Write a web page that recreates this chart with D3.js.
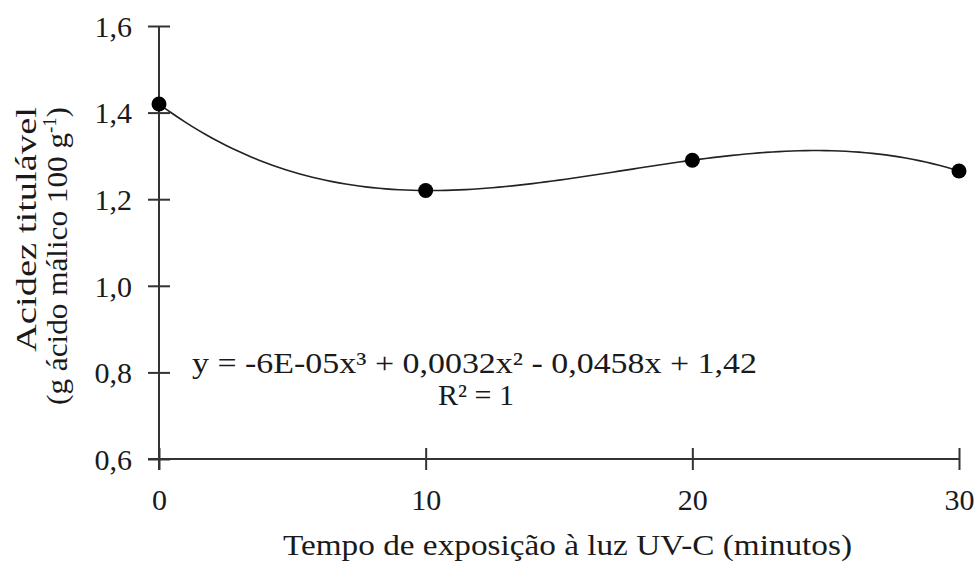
<!DOCTYPE html>
<html>
<head>
<meta charset="utf-8">
<script src="https://cdn.jsdelivr.net/npm/d3@7"></script>
<style>
  body { margin: 0; background: #fff; }
  svg text { font-family: "Liberation Serif", "Times New Roman", serif; fill: #1a1a1a; }
</style>
</head>
<body>
<div id="chart"></div>
<script>
// observed data
var minutes = [0, 10, 20, 30];
var acidity = [1.42, 1.22, 1.29, 1.265];
var xTicks = [0, 10, 20, 30];
var yTicks = [0.6, 0.8, 1.0, 1.2, 1.4, 1.6];
var equationText = "y = -6E-05x\u00B3 + 0,0032x\u00B2 - 0,0458x + 1,42";
var r2Text = "R\u00B2 = 1";

var width = 979, height = 563;
var margin = {top: 26, right: 20, bottom: 104, left: 159};
var w = width - margin.left - margin.right,
    h = height - margin.top - margin.bottom;

var svg = d3.select("#chart").append("svg")
    .attr("width", width)
    .attr("height", height);
var g = svg.append("g")
    .attr("transform", "translate(" + margin.left + "," + margin.top + ")");

var xScale = d3.scaleLinear().domain([0, 30]).range([0, w]);
var yScale = d3.scaleLinear().domain([0.6, 1.6]).range([h, 0]);

var fmt = function(d) { return d3.format(".1f")(d).replace(".", ","); };
var axisColor = "#333";
var fontSize = "30px";

// x axis (ticks crossing the line)
var xAxis = g.append("g")
    .attr("transform", "translate(0," + h + ")")
    .call(d3.axisBottom(xScale).tickValues(xTicks).tickSize(0).tickFormat(d3.format("d")));
xAxis.select("path.domain").remove();
xAxis.append("line").attr("x1", -11).attr("x2", w).attr("y1", 0).attr("y2", 0);
xAxis.selectAll(".tick").append("line").attr("y1", -11).attr("y2", 11);
xAxis.selectAll(".tick text").attr("y", 0).attr("dy", "51px").style("font-size", fontSize);

// y axis
var yAxis = g.append("g")
    .call(d3.axisLeft(yScale).tickValues(yTicks).tickSize(0).tickFormat(fmt));
yAxis.select("path.domain").remove();
yAxis.append("line").attr("x1", 0).attr("x2", 0).attr("y1", 0).attr("y2", h + 11);
yAxis.selectAll(".tick").append("line").attr("x1", -11).attr("x2", 11);
yAxis.selectAll(".tick text").attr("x", -27).attr("dy", "0.34em").style("font-size", fontSize);

svg.selectAll("g line")
    .attr("stroke", axisColor)
    .attr("stroke-width", 2);

// fitted cubic (through the four observed points, R^2 = 1)
function cubic(x) {
  var s = 0;
  for (var i = 0; i < minutes.length; i++) {
    var t = acidity[i];
    for (var j = 0; j < minutes.length; j++) {
      if (j !== i) t *= (x - minutes[j]) / (minutes[i] - minutes[j]);
    }
    s += t;
  }
  return s;
}
var curveX = d3.range(0, 30.01, 0.25);
var valueline = d3.line()
    .x(function(d) { return xScale(d); })
    .y(function(d) { return yScale(cubic(d)); });

g.append("path")
    .datum(curveX)
    .attr("fill", "none")
    .attr("stroke", "#222")
    .attr("stroke-width", 1.6)
    .attr("d", valueline);

g.selectAll("circle")
    .data(minutes)
    .enter()
    .append("circle")
    .attr("cx", function(d) { return xScale(d); })
    .attr("cy", function(d, i) { return yScale(acidity[i]); })
    .attr("r", 7.5)
    .attr("fill", "#000");

// equation
svg.append("text")
    .attr("x", 192).attr("y", 373)
    .attr("textLength", 565)
    .attr("lengthAdjust", "spacingAndGlyphs")
    .style("font-size", fontSize)
    .text(equationText);
svg.append("text")
    .attr("x", 476).attr("y", 405)
    .attr("text-anchor", "middle")
    .style("font-size", fontSize)
    .text(r2Text);

// axis titles
svg.append("text")
    .attr("x", 283).attr("y", 555)
    .attr("textLength", 569)
    .attr("lengthAdjust", "spacingAndGlyphs")
    .style("font-size", fontSize)
    .text("Tempo de exposição à luz UV-C  (minutos)");

svg.append("text")
    .attr("transform", "translate(36,352) rotate(-90)")
    .attr("textLength", 245)
    .attr("lengthAdjust", "spacingAndGlyphs")
    .style("font-size", fontSize)
    .text("Acidez titulável");

var yt2 = svg.append("text")
    .attr("transform", "translate(67,405) rotate(-90)")
    .style("font-size", fontSize);
yt2.append("tspan").attr("textLength", 272).attr("lengthAdjust", "spacingAndGlyphs")
    .text("(g ácido málico 100 g");
yt2.append("tspan").attr("dy", -11).style("font-size", "19px").text("-1");
yt2.append("tspan").attr("dy", 11).text(")");
</script>
</body>
</html>
